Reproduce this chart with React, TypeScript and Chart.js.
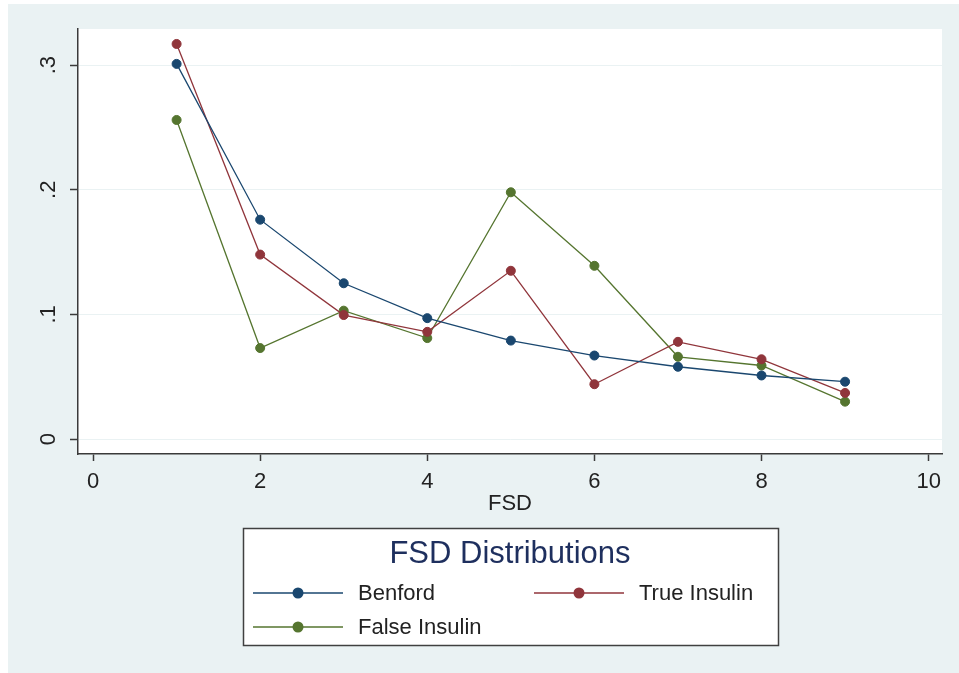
import React, { useEffect, useRef } from 'react';
import { Chart, registerables } from 'chart.js';

Chart.register(...registerables);

// ---- data ----
const fsd = [1, 2, 3, 4, 5, 6, 7, 8, 9];
const benford = [0.301, 0.176, 0.125, 0.097, 0.079, 0.067, 0.058, 0.051, 0.046];
const trueInsulin = [0.317, 0.148, 0.0995, 0.086, 0.135, 0.044, 0.078, 0.064, 0.037];
const falseInsulin = [0.256, 0.073, 0.103, 0.081, 0.198, 0.139, 0.066, 0.059, 0.03];
const xTicks = [0, 2, 4, 6, 8, 10];
const xTickLabels = ['0', '2', '4', '6', '8', '10'];
const yTicks = [0, 0.1, 0.2, 0.3];
const yTickLabels = ['0', '.1', '.2', '.3'];
const seriesNames = ['Benford', 'True Insulin', 'False Insulin'];
const seriesColors = ['#1a476f', '#90353b', '#55752f'];
const legendTitle = 'FSD Distributions';
const xTitle = 'FSD';

const FONT = '"Liberation Sans", Arial, Helvetica, sans-serif';
const BG = '#eaf2f3';
const INK = '#222222';
const AXIS = '#3a3a3a';

const stataPlugin = {
  id: 'stataLook',
  beforeDraw(chart: any) {
    const { ctx, chartArea: ca, width, height } = chart;
    ctx.save();
    ctx.fillStyle = '#ffffff';
    ctx.fillRect(0, 0, width, height);
    ctx.fillStyle = BG;
    ctx.fillRect(8, 4, width - 8, height - 4);
    ctx.fillStyle = '#ffffff';
    ctx.fillRect(ca.left, ca.top, ca.right - ca.left, ca.bottom - ca.top);
    ctx.restore();
  },
  afterDraw(chart: any) {
    const { ctx, chartArea: ca } = chart;
    const ys = chart.scales.y;
    ctx.save();
    // rotated y tick labels
    ctx.font = `22px ${FONT}`;
    ctx.fillStyle = INK;
    ctx.textAlign = 'center';
    ctx.textBaseline = 'middle';
    ys.ticks.forEach((t: any, i: number) => {
      const py = ys.getPixelForValue(t.value);
      ctx.save();
      ctx.translate(49, py);
      ctx.rotate(-Math.PI / 2);
      ctx.fillText(yTickLabels[i], 0, 0);
      ctx.restore();
    });

    // legend box
    const cx = (ca.left + ca.right) / 2;
    const bx = cx - 267;
    const bw = 535;
    const by = 528;
    const bh = 117;
    ctx.fillStyle = '#ffffff';
    ctx.fillRect(bx, by, bw, bh);
    ctx.strokeStyle = '#404040';
    ctx.lineWidth = 1.5;
    ctx.strokeRect(bx + 0.5, by + 0.5, bw, bh);

    ctx.font = `31px ${FONT}`;
    ctx.fillStyle = '#1e2f5e';
    ctx.textAlign = 'center';
    ctx.textBaseline = 'middle';
    ctx.fillText(legendTitle, cx, 554);

    const colX = [bx + 10, bx + 291];
    const rowY = [593, 627];
    chart.data.datasets.forEach((ds: any, i: number) => {
      const x0 = colX[i % 2];
      const y0 = rowY[Math.floor(i / 2)];
      ctx.strokeStyle = ds.borderColor;
      ctx.lineWidth = 1.3;
      ctx.beginPath();
      ctx.moveTo(x0, y0);
      ctx.lineTo(x0 + 90, y0);
      ctx.stroke();
      ctx.fillStyle = ds.borderColor;
      ctx.beginPath();
      ctx.arc(x0 + 45, y0, 5.5, 0, Math.PI * 2);
      ctx.fill();
      ctx.font = `22px ${FONT}`;
      ctx.fillStyle = INK;
      ctx.textAlign = 'left';
      ctx.textBaseline = 'middle';
      ctx.fillText(ds.label, x0 + 105, y0 + 1);
    });
    ctx.restore();
  },
};

export default function App() {
  const ref = useRef<HTMLCanvasElement | null>(null);

  useEffect(() => {
    if (!ref.current) return;
    const seriesValues = [benford, trueInsulin, falseInsulin];
    const chart = new Chart(ref.current, {
      type: 'line',
      data: {
        datasets: seriesValues.map((vals, i) => ({
          label: seriesNames[i],
          data: fsd.map((d, j) => ({ x: d, y: vals[j] })),
          borderColor: seriesColors[i],
          backgroundColor: seriesColors[i],
          borderWidth: 1.3,
          pointRadius: 4.5,
          pointBorderWidth: 1,
          pointBackgroundColor: seriesColors[i],
          pointBorderColor: seriesColors[i],
          tension: 0,
          fill: false,
        })),
      },
      options: {
        animation: false,
        responsive: false,
        devicePixelRatio: 1,
        layout: { padding: { left: 0, top: 29, right: 17, bottom: 149 } },
        plugins: {
          legend: { display: false },
          tooltip: { enabled: false },
          title: { display: false },
        },
        scales: {
          x: {
            type: 'linear',
            min: -0.18,
            max: 10.16,
            afterBuildTicks: (s: any) => {
              s.ticks = xTicks.map((v) => ({ value: v }));
            },
            afterFit: (s: any) => {
              s.height = 70;
            },
            ticks: {
              color: INK,
              font: { family: FONT, size: 22 },
              padding: 8,
              maxRotation: 0,
              autoSkip: false,
              callback: (_v: any, i: number) => xTickLabels[i],
            },
            grid: {
              drawOnChartArea: false,
              drawTicks: true,
              tickLength: 7,
              tickColor: AXIS,
              tickWidth: 1.5,
            },
            border: { display: true, color: AXIS, width: 1.5 },
            title: {
              display: true,
              text: xTitle,
              color: INK,
              font: { family: FONT, size: 22 },
              padding: { top: 0, bottom: 7 },
            },
          },
          y: {
            type: 'linear',
            min: -0.012,
            max: 0.329,
            afterBuildTicks: (s: any) => {
              s.ticks = yTicks.map((v) => ({ value: v }));
            },
            afterFit: (s: any) => {
              s.width = 78;
            },
            ticks: { display: false },
            grid: {
              color: BG,
              lineWidth: 1,
              drawTicks: true,
              tickLength: 8,
              tickColor: AXIS,
              tickWidth: 1.5,
            },
            border: { display: true, color: AXIS, width: 1.5 },
          },
        },
      },
      plugins: [stataPlugin],
    } as any);
    return () => chart.destroy();
  }, []);

  return (
    <div style={{ position: 'fixed', left: 0, top: 0, width: 959, height: 673, background: '#fff' }}>
      <canvas ref={ref} width={959} height={673} style={{ display: 'block', width: 959, height: 673 }} />
    </div>
  );
}
